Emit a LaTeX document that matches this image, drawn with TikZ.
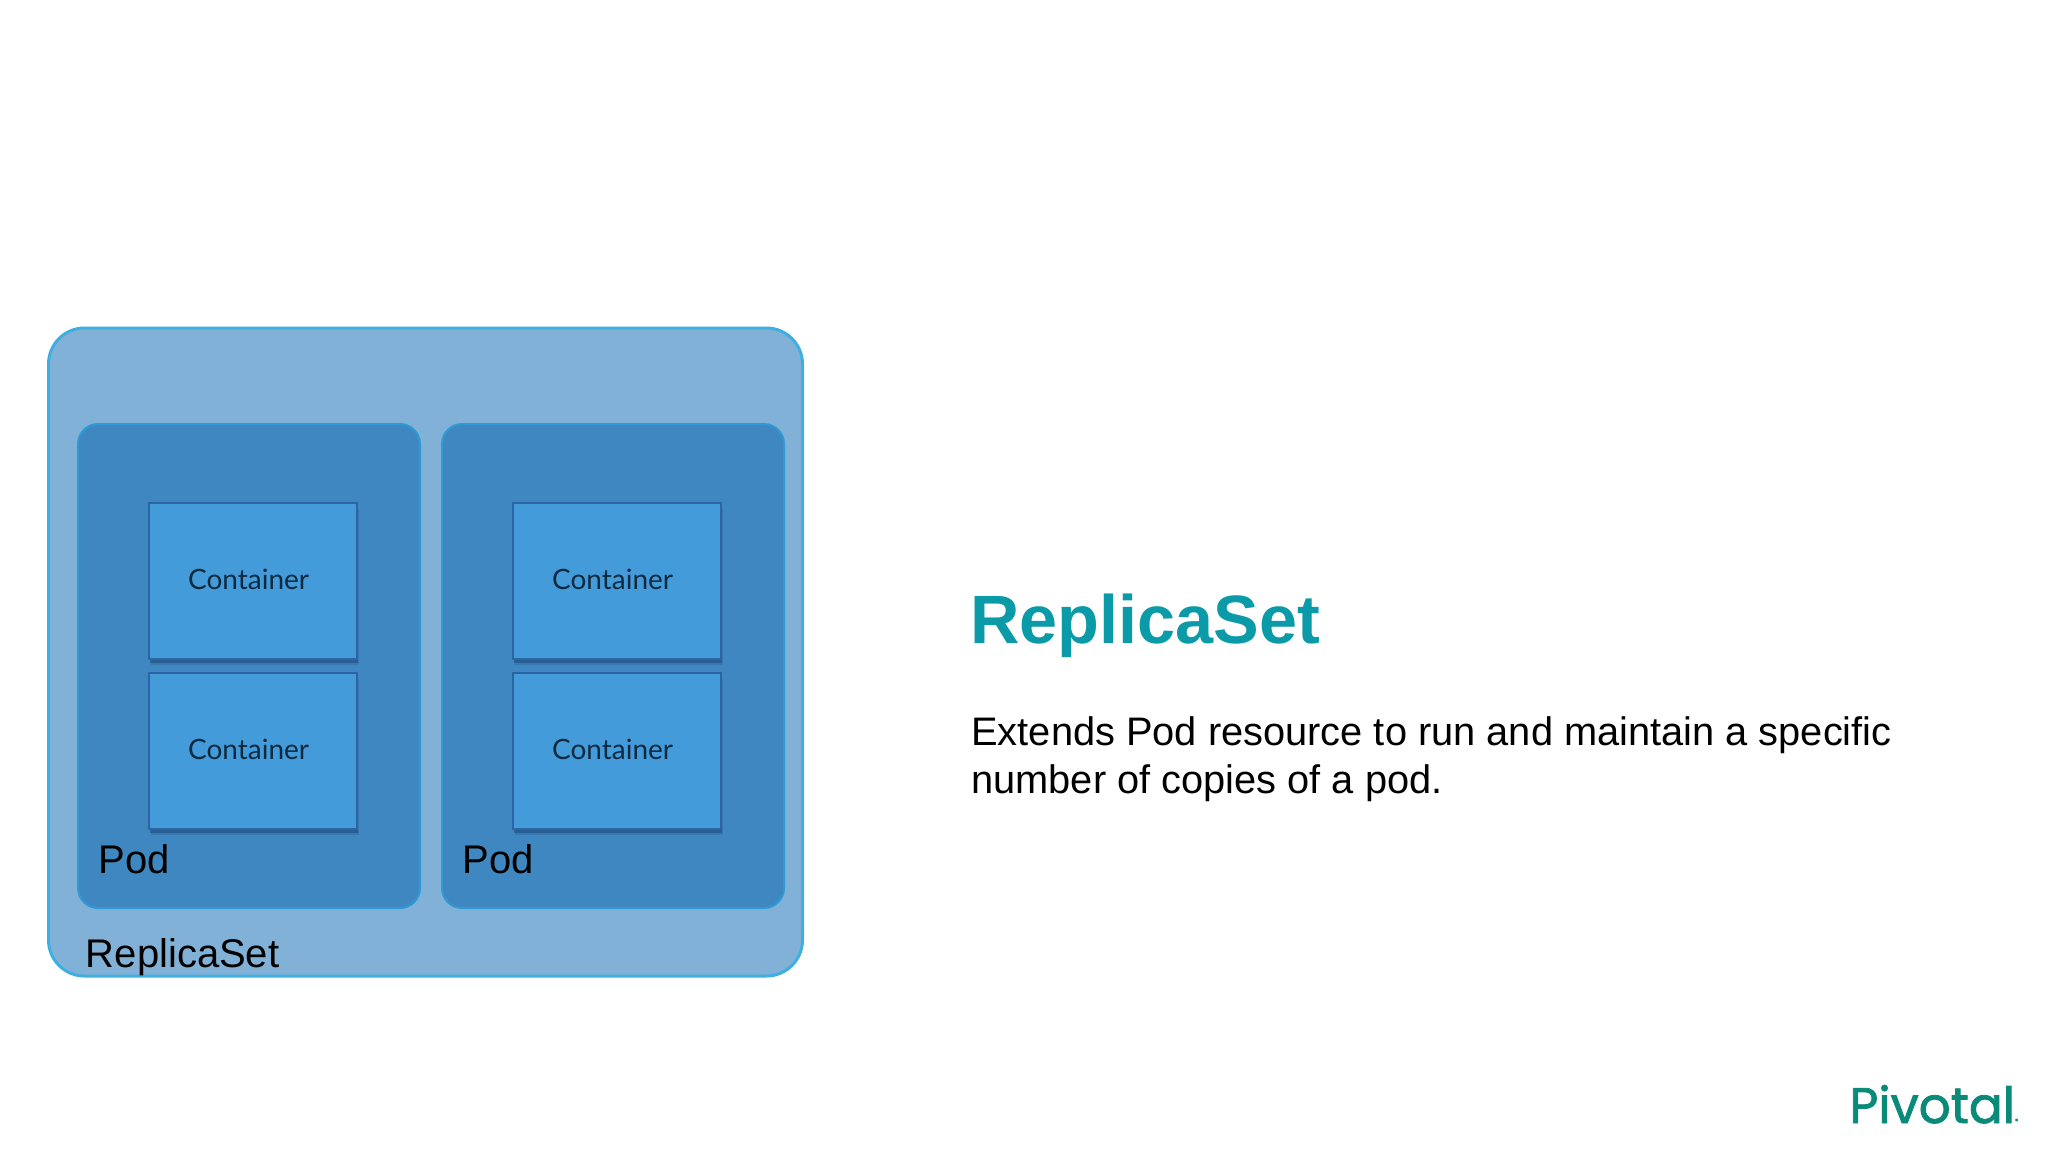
\documentclass[tikz,border=0pt]{standalone}
\usepackage{fontspec}
\setmainfont{Liberation Sans}
\newfontfamily\labelfont{Lato}
\newfontfamily\logofont[FakeBold=1.6]{Poppins}
\usetikzlibrary{shapes.misc}
\usetikzlibrary{shadows}
\definecolor{rsfill}{HTML}{81B1D6}
\definecolor{rsline}{HTML}{3FAEE0}
\definecolor{podfill}{HTML}{3F87C0}
\definecolor{podline}{HTML}{2F9AD6}
\definecolor{cfill}{HTML}{449BD9}
\definecolor{cline}{HTML}{2C64A6}
\definecolor{cshadow}{HTML}{1F4F80}
\definecolor{ctext}{HTML}{0E2A40}
\definecolor{titleteal}{HTML}{0A9AA8}
\definecolor{logogreen}{HTML}{0A8A78}
\tikzset{
    rsbox/.style={draw=rsline, fill=rsfill, line width=1.5pt, rounded corners=18pt,
        minimum width=377pt, minimum height=324pt},
    podbox/.style={draw=podline, fill=podfill, line width=1pt, rounded corners=10pt,
        minimum width=171pt, minimum height=242pt},
    cbox/.style={draw=cline, fill=cfill, line width=1pt,
        minimum width=104pt, minimum height=78pt,
        drop shadow={shadow xshift=1.2pt, shadow yshift=-3pt, fill=cshadow, opacity=0.25},
        drop shadow={shadow xshift=0.6pt, shadow yshift=-2pt, fill=cshadow, opacity=0.6},
        label={[ctag]center:Container}},
    ctag/.style={font=\labelfont\fontsize{14}{16}\selectfont, text=ctext,
        xshift=-2.2pt, yshift=1pt},
    tag/.style={font=\fontsize{20}{24}\selectfont, inner sep=0pt, anchor=base west},
}
\begin{document}
\begin{tikzpicture}[x=0.5pt, y=-0.5pt]
    \useasboundingbox (0,0) rectangle (2048,1152);
    \node[rsbox] (rs) at (425.5,652) {};
    \node[podbox] (podA) at (249,666) {};
    \node[podbox, right of=podA, node distance=182pt] (podB) {};
    % containers
    \node[cbox] (cA) at (253,581) {};
    \node[cbox, below of=cA, node distance=85pt] (cB) {};
    \node[cbox, right of=cA, node distance=182pt] (cC) {};
    \node[cbox, below of=cC, node distance=85pt] (cD) {};
    % labels
    \node[tag] (podAtag) at (98.5,873) {Pod};
    \node[tag, xshift=182pt] (podBtag) at (podAtag.base west) {Pod};
    \node[tag] (rstag) at (85.5,967) {ReplicaSet};
    % text on the right
    \node[inner sep=0pt, anchor=base west, text=titleteal,
        font=\bfseries\fontsize{34.2}{40}\selectfont] (title) at (970,643) {ReplicaSet};
    \node[inner sep=0pt, anchor=north west, text width=500pt, align=flush left,
        font=\fontsize{19.9}{24}\selectfont] (body) at (971,716)
        {Extends Pod resource to run and maintain a specific\\number of copies of a pod.};
    \node[inner sep=0pt, anchor=base west, text=logogreen,
        font=\logofont\fontsize{25}{30}\selectfont] (logo) at (1849,1123)
        {Pivotal{\fontsize{3}{3}\selectfont ®}};
\end{tikzpicture}
\end{document}
